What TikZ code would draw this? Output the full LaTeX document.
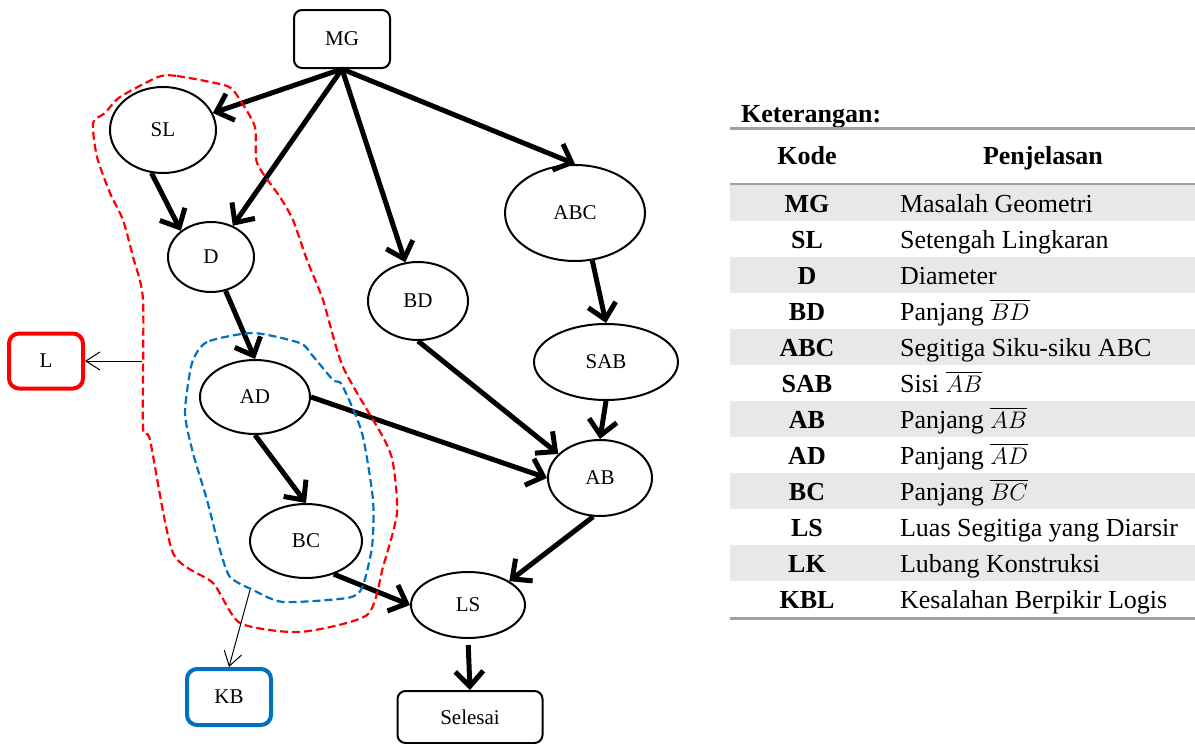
\documentclass[tikz,border=0pt]{standalone}
\usepackage{fontspec}
\setmainfont{Liberation Serif}
\usetikzlibrary{arrows.meta,shapes.geometric}
\definecolor{Loop}{HTML}{FF0000}
\definecolor{Inner}{HTML}{0070C0}
\definecolor{Band}{HTML}{E8E8E8}
\definecolor{RuleGray}{HTML}{A0A0A0}
\newcommand\nodefont{\fontsize{10.5}{12}\selectfont}
\newcommand\tabfont{\fontsize{13}{15}\selectfont}
\tikzset{
  stepnode/.style={draw,ellipse,line width=1pt,inner sep=0pt,font=\nodefont},
  termbox/.style={draw,rectangle,rounded corners=4pt,line width=1pt,font=\nodefont},
  errbox/.style={rectangle,rounded corners=5pt,line width=2pt,font=\nodefont},
  flow/.style={-{Straight Barb[length=7.5pt,width=14pt]},line width=2.5pt},
  pointer/.style={-{Straight Barb[length=7pt,width=9pt]},line width=.5pt},
  region/.style={dash pattern=on 4pt off 2pt,line width=1.1pt},
  tabrule/.style={draw=RuleGray,line width=1.5pt}
}

\begin{document}
\begin{tikzpicture}[x=0.5pt,y=-0.5pt]
    \useasboundingbox (0,0) rectangle (1195,744);
    % flow nodes
    \node[termbox,minimum width=48pt,minimum height=29pt] (MG) at (342,39) {MG};
    \node[stepnode,minimum width=53pt,minimum height=43pt] (SL) at (163,130) {SL};
    \node[stepnode,minimum width=43pt,minimum height=35pt] (D) at (211,257) {D};
    \node[stepnode,minimum width=50pt,minimum height=39pt] (BD) at (418,301) {BD};
    \node[stepnode,minimum width=70pt,minimum height=48pt] (ABC) at (575,213) {ABC};
    \node[stepnode,minimum width=72pt,minimum height=38pt] (SAB) at (606,362) {SAB};
    \node[stepnode,minimum width=55pt,minimum height=37pt] (AD) at (255,397) {AD};
    \node[stepnode,minimum width=56pt,minimum height=37pt] (BC) at (306,541) {BC};
    \node[stepnode,minimum width=52pt,minimum height=38pt] (AB) at (600,478) {AB};
    \node[stepnode,minimum width=57pt,minimum height=33pt] (LS) at (468,605) {LS};
    \node[termbox,minimum width=72.5pt,minimum height=26pt] (Selesai) at (470,717) {Selesai};
    \node[errbox,draw=Loop,minimum width=37pt,minimum height=27.5pt] (L) at (46,361) {L};
    \node[errbox,draw=Inner,minimum width=42pt,minimum height=28pt] (KB) at (229,697) {KB};
    % thick arrows
    \draw[flow] (MG.south) -- (SL);
    \draw[flow] (MG.south) -- (D);
    \draw[flow] (MG.south) -- (BD);
    \draw[flow] (MG.south) -- (ABC.north);
    \draw[flow] (SL.255) -- (D.139);
    \draw[flow] (D) -- (AD.north);
    \draw[flow] (BD.south) -- (AB.150);
    \draw[flow] (ABC.-70) -- (SAB.north);
    \draw[flow] (SAB.south) -- (AB.north);
    \draw[flow] (AD.east) -- (AB.west);
    \draw[flow] (AD.south) -- (BC.north);
    \draw[flow] (BC.-50) -- (LS.west);
    \draw[flow] (AB.-100) -- (LS.30);
    \draw[flow,shorten <=3pt] (LS.south) -- (Selesai.north);
    % dashed regions
    \draw[region,Loop] plot[smooth cycle,tension=0.4] coordinates {
      (158,77) (177,76) (227,86) (240,100) (255,127) (257,163) (280,197) (293,220)
      (307,260) (323,300) (343,367) (383,437) (393,463) (397,513) (383,567) (367,615)
      (300,632) (240,623) (213,583) (173,553) (150,440) (143,427) (143,300) (133,257)
      (123,220) (110,193) (97,157) (93,123) (105,113) (120,97)};
    \draw[region,Inner] plot[smooth cycle,tension=0.4] coordinates {
      (253,333) (207,342) (192,363) (185,413) (193,453) (207,500) (220,550) (230,577)
      (253,590) (283,602) (347,598) (362,588) (372,547) (373,500) (362,433) (342,385)
      (333,380) (312,355) (300,343)};
    \coordinate (lpick) at (142,361);
    \coordinate (kbpick) at (250,590);
    \draw[pointer] (lpick) -- (L);
    \draw[pointer] (kbpick) -- (KB.north);
    % legend table
    \node[anchor=base west,font=\tabfont\bfseries] (title) at (734,122) {Keterangan:};
    \draw[tabrule] (730,128) -- (1195,128);
    \node[anchor=base,font=\tabfont\bfseries] (headcode) at (807,164) {Kode};
    \node[anchor=base,font=\tabfont\bfseries] (headdesc) at (1043,164) {Penjelasan};
    \draw[tabrule] (730,184) -- (1195,184);
    \foreach \code/\desc [count=\i from 0] in {MG/Masalah Geometri,SL/Setengah Lingkaran,
        D/Diameter,BD/Panjang $\overline{BD}$,ABC/Segitiga Siku-siku ABC,SAB/Sisi $\overline{AB}$,
        AB/Panjang $\overline{AB}$,AD/Panjang $\overline{AD}$,BC/Panjang $\overline{BC}$,
        LS/Luas Segitiga yang Diarsir,LK/Lubang Konstruksi,KBL/Kesalahan Berpikir Logis}{
      \pgfmathsetmacro\rowy{203+36*\i}
      \ifodd\i\else\fill[Band] (730,\rowy-18) rectangle (1195,\rowy+18);\fi
      \node[anchor=base,font=\tabfont\bfseries] (code\code) at (807,\rowy+9) {\code};
      \node[anchor=base west,font=\tabfont] (desc\code) at (893,\rowy+9) {\desc};
    }
    \draw[tabrule] (730,618) -- (1195,618);
\end{tikzpicture}
\end{document}
